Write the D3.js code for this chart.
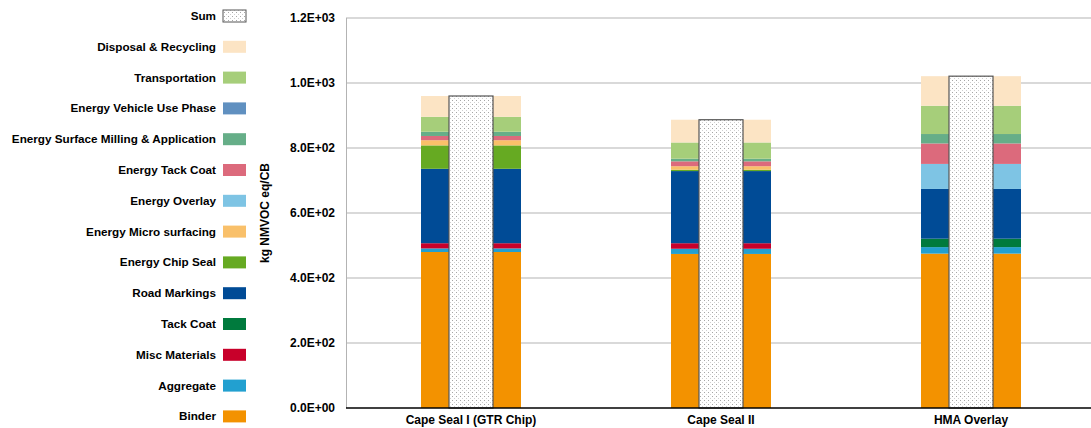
<!DOCTYPE html>
<html>
<head>
<meta charset="utf-8">
<script src="https://cdn.jsdelivr.net/npm/d3@7"></script>
<style>
  body { margin: 0; background: #fff; }
  svg { font-family: "Liberation Sans", Arial, sans-serif; font-weight: bold; }
</style>
</head>
<body>
<div id="chart"></div>
<script>
const categories = ['Cape Seal I (GTR Chip)', 'Cape Seal II', 'HMA Overlay'];

// stack order, bottom to top
const seriesNames = [
  'Binder', 'Aggregate', 'Misc Materials', 'Tack Coat', 'Road Markings',
  'Energy Chip Seal', 'Energy Micro surfacing', 'Energy Overlay', 'Energy Tack Coat',
  'Energy Surface Milling & Application', 'Energy Vehicle Use Phase',
  'Transportation', 'Disposal & Recycling'
];
const seriesColors = [
  '#f39200', '#22a0d0', '#c8002a', '#007a3d', '#004b96',
  '#66aa22', '#f9c06a', '#7ec4e4', '#dc6a7c',
  '#66ae88', '#6090c0',
  '#a6ce7a', '#fce4c4'
];

// values per series, one per category
const binder       = [480, 474, 475];
const aggregate    = [11, 16, 20];
const miscMat      = [16, 17, 0];
const tackCoat     = [0, 0, 26];
const roadMarkings = [229, 222, 153];
const eChipSeal    = [72, 4, 0];
const eMicro       = [16, 11, 0];
const eOverlay     = [0, 0, 77];
const eTackCoat    = [13, 15, 63];
const eMilling     = [13, 8, 29];
const eVehicle     = [0, 0, 0];
const transport    = [46, 50, 87];
const disposal     = [64, 70, 91];

const seriesValues = [binder, aggregate, miscMat, tackCoat, roadMarkings, eChipSeal,
  eMicro, eOverlay, eTackCoat, eMilling, eVehicle, transport, disposal];

const yTicks = [0, 200, 400, 600, 800, 1000, 1200];

const width = 1091, height = 428;
const margin = { top: 18, right: -5, bottom: 20, left: 346 };

const rows = categories.map((c, i) => {
  const r = { category: c };
  seriesNames.forEach((s, j) => { r[s] = seriesValues[j][i]; });
  r.sum = d3.sum(seriesValues, v => v[i]);
  return r;
});

const svg = d3.select('#chart').append('svg')
    .attr('width', width)
    .attr('height', height);

// dotted fill for the Sum bars
const pat = svg.append('defs').append('pattern')
    .attr('id', 'dots')
    .attr('patternUnits', 'userSpaceOnUse')
    .attr('width', 4)
    .attr('height', 4);
pat.append('rect').attr('width', 4).attr('height', 4).attr('fill', '#fff');
pat.append('rect').attr('x', 0).attr('y', 0).attr('width', 1).attr('height', 1).attr('fill', '#a6a6a6');
pat.append('rect').attr('x', 2).attr('y', 2).attr('width', 1).attr('height', 1).attr('fill', '#d0d0d0');

const x = d3.scaleBand()
    .domain(categories)
    .range([margin.left, width - margin.right]);

const y = d3.scaleLinear()
    .domain([0, 1200])
    .range([height - margin.bottom, margin.top]);

// gridlines
svg.append('g')
  .selectAll('line')
  .data(yTicks.slice(1))
  .join('line')
    .attr('x1', margin.left)
    .attr('x2', width)
    .attr('y1', d => y(d))
    .attr('y2', d => y(d))
    .attr('stroke', '#b3b3b3')
    .attr('stroke-width', 1);

// left axis line
svg.append('line')
    .attr('x1', margin.left + 0.5).attr('x2', margin.left + 0.5)
    .attr('y1', y(1200)).attr('y2', y(0))
    .attr('stroke', '#b3b3b3');

// y tick labels
const yAxis = svg.append('g')
    .attr('transform', `translate(${margin.left},0)`)
    .call(d3.axisLeft(y).tickValues(yTicks).tickSize(0).tickPadding(11)
      .tickFormat(d => d === 0 ? '0.0E+00' : d3.format('.1e')(d).toUpperCase().replace('E+', 'E+0')));
yAxis.select('.domain').remove();
yAxis.selectAll('text')
    .style('font-size', '12px')
    .style('font-weight', 'bold')
    .style('font-family', '"Liberation Sans", Arial, sans-serif')
    .attr('fill', '#000');

// stacked bars
const stacked = d3.stack().keys(seriesNames)(rows);
const wideW = x.bandwidth() * 0.4;
const sumW = 44;

svg.append('g')
  .selectAll('g')
  .data(stacked)
  .join('g')
    .attr('fill', (d, i) => seriesColors[i])
  .selectAll('rect')
  .data(d => d)
  .join('rect')
    .attr('x', d => x(d.data.category) + x.bandwidth() / 2 - wideW / 2)
    .attr('width', wideW)
    .attr('y', d => y(d[1]))
    .attr('height', d => Math.max(0, y(d[0]) - y(d[1])));

// sum bars
svg.append('g')
  .selectAll('rect')
  .data(rows)
  .join('rect')
    .attr('x', d => x(d.category) + x.bandwidth() / 2 - sumW / 2)
    .attr('width', sumW)
    .attr('y', d => y(d.sum))
    .attr('height', d => y(0) - y(d.sum))
    .attr('fill', 'url(#dots)')
    .attr('stroke', '#555')
    .attr('stroke-width', 1.2);

// baseline
svg.append('line')
    .attr('x1', margin.left).attr('x2', width)
    .attr('y1', y(0)).attr('y2', y(0))
    .attr('stroke', '#000')
    .attr('stroke-width', 1.5);

// category labels
svg.append('g')
  .selectAll('text')
  .data(categories)
  .join('text')
    .attr('x', d => x(d) + x.bandwidth() / 2)
    .attr('y', height - 4)
    .attr('text-anchor', 'middle')
    .style('font-size', '12px')
    .text(d => d);

// y axis title
svg.append('text')
    .attr('transform', `translate(269,${y(600)}) rotate(-90)`)
    .attr('text-anchor', 'middle')
    .style('font-size', '12px')
    .text('kg NMVOC eq/CB');

// legend
const legendItems = [{ name: 'Sum', fill: 'url(#dots)', sum: true }]
  .concat(seriesNames.map((s, i) => ({ name: s, fill: seriesColors[i] })).reverse());

const legend = svg.append('g')
  .selectAll('g')
  .data(legendItems)
  .join('g')
    .attr('transform', (d, i) => `translate(0,${16 + i * 30.8})`);

legend.append('rect')
    .attr('x', 223)
    .attr('y', -6)
    .attr('width', 23)
    .attr('height', 12)
    .attr('fill', d => d.fill)
    .attr('stroke', d => d.sum ? '#555' : 'none');

legend.append('text')
    .attr('x', 216)
    .attr('y', 4)
    .attr('text-anchor', 'end')
    .style('font-size', '11.7px')
    .text(d => d.name);
</script>
</body>
</html>
